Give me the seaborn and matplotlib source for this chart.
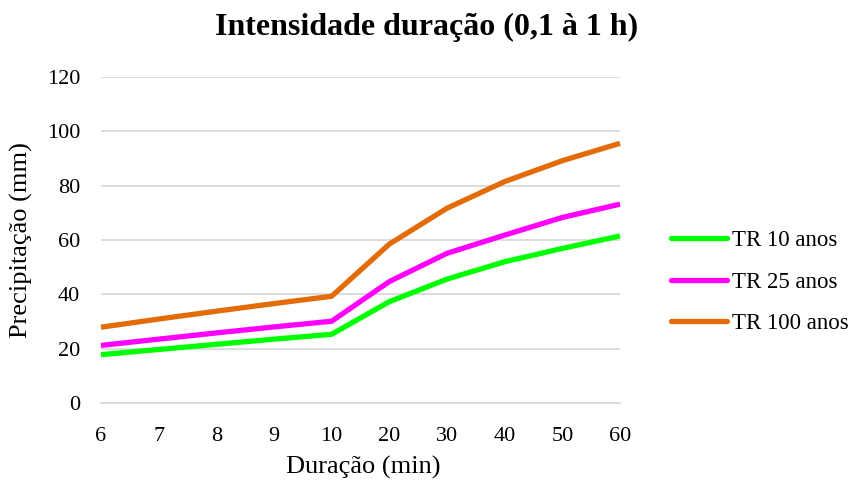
import matplotlib
matplotlib.use("Agg")
import matplotlib.pyplot as plt
import seaborn as sns
import pandas as pd
from matplotlib.lines import Line2D

durations = ["6", "7", "8", "9", "10", "20", "30", "40", "50", "60"]
tr10 = [17.8, 19.7, 21.6, 23.5, 25.3, 37.3, 45.6, 52.0, 56.9, 61.5]
tr25 = [21.2, 23.5, 25.8, 28.0, 30.1, 44.7, 55.1, 61.8, 68.3, 73.2]
tr100 = [27.9, 30.9, 33.8, 36.6, 39.3, 58.5, 71.7, 81.5, 89.2, 95.6]
series_names = ["TR 10 anos", "TR 25 anos", "TR 100 anos"]
colors = ["#00FF00", "#FF00FF", "#E36C09"]

df = pd.concat([
    pd.DataFrame({"Duração": durations, "Precipitação": vals, "Série": name})
    for name, vals in zip(series_names, [tr10, tr25, tr100])
], ignore_index=True)

sns.set_theme(style="white")
plt.rcParams["font.family"] = ["Liberation Serif", "DejaVu Serif"]
plt.rcParams["text.color"] = "black"
plt.rcParams["axes.labelcolor"] = "black"

fig = plt.figure(figsize=(8.56, 4.82), dpi=100)
ax = fig.add_axes([101/856, 1-403/482, (620-101)/856, (403-77)/482])

sns.lineplot(data=df, x="Duração", y="Precipitação", hue="Série",
             palette=colors, linewidth=3.8, ax=ax, sort=False, legend=False)

ax.set_xlim(0, len(durations)-1)
ax.set_ylim(0, 120)
ax.set_yticks([0, 20, 40, 60, 80, 100, 120])
ax.yaxis.grid(True, color="#D9D9D9", linewidth=1.3)
ax.set_axisbelow(True)
for s in ["top", "right", "left"]:
    ax.spines[s].set_visible(False)
ax.spines["bottom"].set_color("#D9D9D9")
ax.spines["bottom"].set_linewidth(1.3)
for line in ax.lines:
    line.set_clip_on(False)
    line.set_solid_capstyle("butt")

ax.set_xticks(range(len(durations)))
ax.set_xticklabels(durations)
ax.tick_params(axis="x", length=0, pad=17, labelsize=16, labelcolor="black")
ax.tick_params(axis="y", length=0, pad=15, labelsize=16, labelcolor="black")
ax.set_xticks([0, 5, 9], minor=True)
ax.tick_params(axis="x", which="minor", direction="in", length=6, width=1.3, color="#D9D9D9")

ax.set_xlabel("Duração (min)", fontsize=19, color="black")
ax.xaxis.set_label_coords(0.506, -0.162)
ax.set_ylabel("Precipitação (mm)", fontsize=19, color="black")
ax.yaxis.set_label_coords(-0.131, 0.5)

fig.text(426.5/856, 1-35/482, "Intensidade duração (0,1 à 1 h)", fontsize=23,
         fontweight="bold", ha="center", va="baseline", color="black")

handles = [Line2D([0], [0], color=c, linewidth=3.8, solid_capstyle="round") for c in colors]
fig.legend(handles, series_names, loc="center left", bbox_to_anchor=(662/856, 1-282/482),
           frameon=False, fontsize=16.5, handlelength=2.45, handletextpad=0.22,
           labelspacing=0.88, borderaxespad=0, labelcolor="black")

fig.savefig("out.png", dpi=100)
